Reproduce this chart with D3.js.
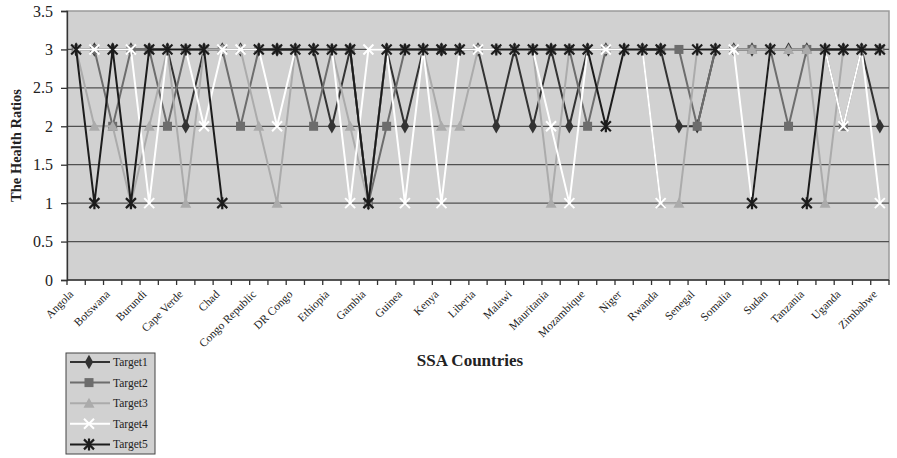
<!DOCTYPE html>
<html>
<head>
<meta charset="utf-8">
<script src="https://cdn.jsdelivr.net/npm/d3@7"></script>
<style>
  body { margin: 0; background: #fff; }
  text { font-family: "Liberation Serif", "DejaVu Serif", serif; }
</style>
</head>
<body>
<div id="chart"></div>
<script>
"use strict"

// categories: every other one gets a label on the axis
let countries = ["Angola", "Benin", "Botswana", "Burkina Faso", "Burundi", "Cameroon",
    "Cape Verde", "Central African Republic", "Chad", "Comoros", "Congo Republic",
    "Cote d'Ivoire", "DR Congo", "Eritrea", "Ethiopia", "Gabon", "Gambia", "Ghana",
    "Guinea", "Guinea-Bissau", "Kenya", "Lesotho", "Liberia", "Madagascar", "Malawi",
    "Mali", "Mauritania", "Mauritius", "Mozambique", "Namibia", "Niger", "Nigeria",
    "Rwanda", "Sao Tome and Principe", "Senegal", "Sierra Leone", "Somalia",
    "South Africa", "Sudan", "Swaziland", "Tanzania", "Togo", "Uganda", "Zambia", "Zimbabwe"];

let target1 = [3,3,3,3,3,3,2,3,3,3, 3,3,3,3,2,3,1,3,2,3, 3,3,3,2,3,2,3,2,3,3,
               3,3,3,2,2,3,3,3,3,3, 3,3,3,3,2];
let target2 = [3,3,2,3,3,2,3,3,3,2, 3,3,3,2,3,3,1,2,3,3, 3,3,3,3,3,3,3,3,2,3,
               3,3,3,3,2,3,3,3,3,2, 3,3,2,3,3];
let target3 = [3,2,2,1,2,3,1,3,3,3, 2,1,3,3,3,2,1,3,3,3, 2,2,3,3,3,3,1,3,3,3,
               3,3,1,1,3,3,3,3,3,3, 3,1,3,3,3];
let target4 = [3,3,3,3,1,3,3,2,3,3, 3,2,3,3,3,1,3,3,1,3, 1,3,3,3,3,3,2,1,3,3,
               3,3,1,null,3,3,3,1,3,null, null,3,2,3,1];
let target5 = [3,1,3,1,3,3,3,3,1,null, 3,3,3,3,3,3,1,3,3,3, 3,3,null,3,3,3,3,3,3,2,
               3,3,3,null,3,3,null,1,3,null, 1,3,3,3,3];

let yTicks = [0, 0.5, 1, 1.5, 2, 2.5, 3, 3.5];

let series = [
    {name: "Target1", values: target1, color: "#333333", marker: "diamond"},
    {name: "Target2", values: target2, color: "#6d6d6d", marker: "square"},
    {name: "Target3", values: target3, color: "#ababab", marker: "triangle"},
    {name: "Target4", values: target4, color: "#ffffff", marker: "cross"},
    {name: "Target5", values: target5, color: "#1c1c1c", marker: "star"}
];

let svg = d3.select("#chart")
    .append("svg")
    .attr("width", 897)
    .attr("height", 458);

let plotLeft = 67, plotRight = 889, plotTop = 11, plotBottom = 280;

let x = d3.scaleBand()
    .domain(countries)
    .range([plotLeft, plotRight]);

let y = d3.scaleLinear()
    .domain([0, 3.5])
    .range([plotBottom, plotTop]);

// plot area
svg.append("rect")
    .attr("x", plotLeft)
    .attr("y", plotTop)
    .attr("width", plotRight - plotLeft)
    .attr("height", plotBottom - plotTop)
    .attr("fill", "#d1d1d1")
    .attr("stroke", "#9a9a9a")
    .attr("stroke-width", 1.5);

// gridlines
svg.append("g")
    .selectAll("line")
    .data(yTicks.slice(1, -1))
    .join("line")
    .attr("x1", plotLeft)
    .attr("x2", plotRight)
    .attr("y1", d => y(d))
    .attr("y2", d => y(d))
    .attr("stroke", "#505050")
    .attr("stroke-width", 1.3);

// y axis
let yAxis = svg.append("g")
    .attr("transform", `translate(${plotLeft},0)`)
    .call(d3.axisLeft(y).tickValues(yTicks).tickSize(6).tickPadding(8)
        .tickFormat(d => d));
yAxis.select(".domain").attr("stroke", "#333").attr("stroke-width", 1.3);
yAxis.selectAll(".tick line").attr("stroke", "#333").attr("stroke-width", 1.3);
yAxis.selectAll("text")
    .attr("font-size", 16)
    .attr("fill", "#222")
    .style("font-family", "Liberation Serif");

// x axis: ticks on category boundaries
let xAxis = svg.append("g");
xAxis.append("line")
    .attr("x1", plotLeft)
    .attr("x2", plotRight)
    .attr("y1", plotBottom)
    .attr("y2", plotBottom)
    .attr("stroke", "#333")
    .attr("stroke-width", 1.3);
xAxis.selectAll(".xtick")
    .data(countries.map(c => x(c)).concat([plotRight]))
    .join("line")
    .attr("class", "xtick")
    .attr("x1", d => d)
    .attr("x2", d => d)
    .attr("y1", plotBottom)
    .attr("y2", plotBottom + 5)
    .attr("stroke", "#333")
    .attr("stroke-width", 1.3);
xAxis.selectAll(".xlabel")
    .data(countries.filter((c, i) => i % 2 === 0))
    .join("text")
    .attr("class", "xlabel")
    .attr("transform", d => `translate(${x(d) + x.bandwidth() / 2 - 2},${plotBottom + 15}) rotate(-45)`)
    .attr("text-anchor", "end")
    .attr("font-size", 11.5)
    .attr("fill", "#222")
    .text(d => d);

// axis titles
svg.append("text")
    .attr("transform", `translate(21,${(plotTop + plotBottom) / 2}) rotate(-90)`)
    .attr("text-anchor", "middle")
    .attr("font-size", 14.5)
    .attr("font-weight", "bold")
    .attr("fill", "#222")
    .text("The Health Ratios");

svg.append("text")
    .attr("x", 470)
    .attr("y", 366)
    .attr("text-anchor", "middle")
    .attr("font-size", 17)
    .attr("font-weight", "bold")
    .attr("fill", "#222")
    .text("SSA Countries");

function drawMarker(g, type, color) {
    if (type === "diamond") {
        g.append("path").attr("d", d3.symbol(d3.symbolDiamond, 60)())
            .attr("fill", color);
    } else if (type === "square") {
        g.append("rect").attr("x", -4.5).attr("y", -4.5)
            .attr("width", 9).attr("height", 9).attr("fill", color);
    } else if (type === "triangle") {
        g.append("path").attr("d", "M0,-5.5L5.5,4.5L-5.5,4.5Z").attr("fill", color);
    } else if (type === "cross") {
        g.append("path").attr("d", "M-5,-5L5,5M-5,5L5,-5")
            .attr("stroke", color).attr("stroke-width", 2);
    } else if (type === "star") {
        g.append("path").attr("d", "M-5,-5L5,5M-5,5L5,-5M0,-6L0,6")
            .attr("stroke", color).attr("stroke-width", 2.2);
    }
}

let line = d3.line()
    .defined(d => d.v !== null)
    .x(d => x(d.c) + x.bandwidth() / 2)
    .y(d => y(d.v));

series.forEach(s => {
    let pts = countries.map((c, i) => ({c: c, v: s.values[i]}));
    let g = svg.append("g");
    g.append("path")
        .datum(pts)
        .attr("d", line)
        .attr("fill", "none")
        .attr("stroke", s.color)
        .attr("stroke-width", 2);
    g.selectAll(".mk")
        .data(pts.filter(p => p.v !== null))
        .join("g")
        .attr("class", "mk")
        .attr("transform", p => `translate(${x(p.c) + x.bandwidth() / 2},${y(p.v)})`)
        .each(function () { drawMarker(d3.select(this), s.marker, s.color); });
});

// legend
let legend = svg.append("g").attr("transform", "translate(66,353)");
legend.append("rect")
    .attr("width", 89)
    .attr("height", 101)
    .attr("fill", "#d1d1d1")
    .attr("stroke", "#444")
    .attr("stroke-width", 1);
series.forEach((s, i) => {
    let row = legend.append("g").attr("transform", `translate(0,${9 + i * 20.6})`);
    row.append("line")
        .attr("x1", 4).attr("x2", 44)
        .attr("stroke", s.color).attr("stroke-width", 2);
    drawMarker(row.append("g").attr("transform", "translate(23,0)"), s.marker, s.color);
    row.append("text")
        .attr("x", 47)
        .attr("y", 4)
        .attr("font-size", 11.5)
        .attr("fill", "#222")
        .text(s.name);
});
</script>
</body>
</html>
